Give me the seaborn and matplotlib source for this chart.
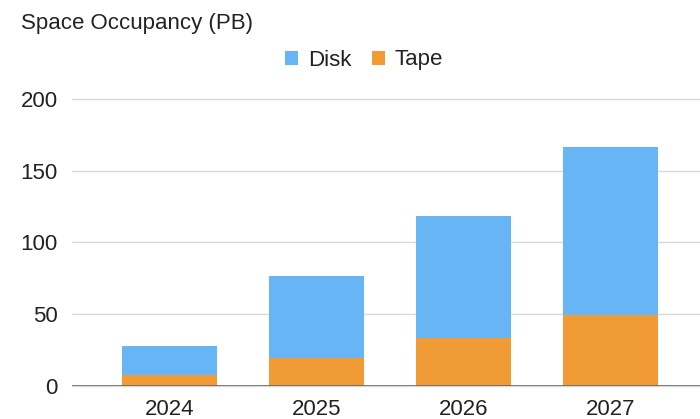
import matplotlib
matplotlib.use("Agg")
import matplotlib.pyplot as plt
import seaborn as sns
import pandas as pd
from matplotlib.patches import Patch

years = ["2024", "2025", "2026", "2027"]
tape = [7.9, 19.9, 33.3, 49.4]
disk = [20.1, 57.0, 85.3, 117.2]
yticks = [0, 50, 100, 150, 200]

DISK_C = "#67b5f4"
TAPE_C = "#f19b36"
TXT = "#222222"

sns.set_theme(style="white")
plt.rcParams['font.family'] = ['Liberation Sans', 'DejaVu Sans']

df = pd.DataFrame({"year": years, "disk": disk, "tape": tape})
df["total"] = df["disk"] + df["tape"]

W, H = 700, 419
fig = plt.figure(figsize=(7.0, 4.19), dpi=100)
ax = fig.add_axes([71.7/W, 1-386.3/H, 1-71.7/W, (386.3-98.7)/H])

sns.barplot(data=df, x="year", y="total", color=DISK_C, width=0.646,
            saturation=1, linewidth=0, ax=ax, zorder=3)
sns.barplot(data=df, x="year", y="tape", color=TAPE_C, width=0.646,
            saturation=1, linewidth=0, ax=ax, zorder=3)

ax.set_ylim(0, 200)
ax.set_xlim(-0.663, 3.611)
ax.set_yticks(yticks)
ax.set_yticklabels([str(t) for t in yticks])
ax.set_xlabel("")
ax.set_ylabel("")
for s in ax.spines.values():
    s.set_visible(False)
ax.grid(axis="y", color="#d9d9d9", linewidth=1.0, zorder=0)
ax.grid(axis="x", visible=False)
ax.axhline(0, color="#666666", linewidth=1.2, zorder=4)
ax.tick_params(axis="y", length=0, pad=10, labelsize=16, labelcolor=TXT)
ax.tick_params(axis="x", length=0, pad=9, labelsize=16, labelcolor=TXT)
for gl in ax.get_ygridlines():
    gl.set_clip_on(False)

fig.text(20.7/W, 1-29/H, "Space Occupancy (PB)", fontsize=16, color=TXT,
         ha="left", va="baseline")

handles = [Patch(facecolor=DISK_C, edgecolor="none", label="Disk"),
           Patch(facecolor=TAPE_C, edgecolor="none", label="Tape")]
fig.legend(handles=handles, loc="center", bbox_to_anchor=(364/W, 1-60/H),
           ncol=2, frameon=False, fontsize=16, handlelength=0.6,
           handleheight=0.6, handletextpad=0.45, columnspacing=0.9,
           labelcolor=TXT, borderpad=0)

fig.savefig("out.png", dpi=100)
